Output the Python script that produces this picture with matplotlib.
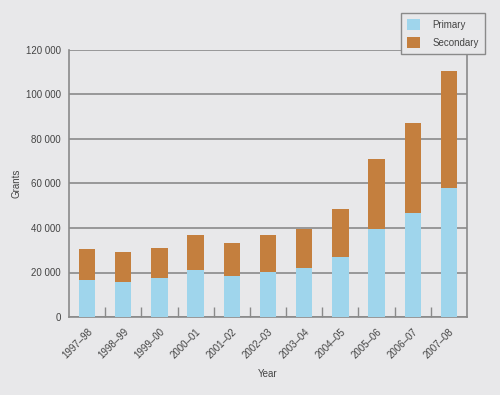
import matplotlib
matplotlib.use("Agg")
import matplotlib.pyplot as plt
import numpy as np

years = ["1997\u201398", "1998\u201399", "1999\u201300", "2000\u201301", "2001\u201302",
         "2002\u201303", "2003\u201304", "2004\u201305", "2005\u201306", "2006\u201307", "2007\u201308"]
primary = [16500, 15700, 17400, 21000, 18300, 20400, 22000, 27100, 39400, 46600, 57800]
totals = [30700, 29200, 30900, 36700, 33400, 36700, 39600, 48500, 71000, 87300, 110600]
secondary = [t - p for t, p in zip(totals, primary)]
yticks = [0, 20000, 40000, 60000, 80000, 100000, 120000]
ytick_labels = ["0", "20 000", "40 000", "60 000", "80 000", "100 000", "120 000"]

bg = "#e8e8ea"
c_prim = "#9fd5ec"
c_sec = "#c47f3e"
gridc = "#8a8a8a"
textc = "#444444"

plt.rcParams['font.family'] = ['Liberation Sans', 'DejaVu Sans']

fig = plt.figure(figsize=(5.0, 3.95), dpi=100, facecolor=bg)
ax = fig.add_axes([69/500, 1 - 317/395, (467-69)/500, (317-50)/395])
ax.set_facecolor(bg)

x = np.arange(len(years))
ax.bar(x, primary, width=0.45, color=c_prim, label="Primary", zorder=3)
ax.bar(x, secondary, width=0.45, bottom=primary, color=c_sec, label="Secondary", zorder=3)

ax.set_xlim(-0.5, len(years) - 0.5)
ax.set_ylim(0, 120000)
ax.set_yticks(yticks)
ax.set_yticklabels(ytick_labels, fontsize=7, color=textc)
ax.set_xticks(x)
ax.set_xticklabels(years, rotation=45, ha="right", rotation_mode="anchor", fontsize=7, color=textc)
ax.set_xticks(np.arange(0.5, len(years) - 1, 1.0), minor=True)
ax.tick_params(axis="x", which="major", length=0, pad=7)
ax.tick_params(axis="x", which="minor", direction="in", length=7, width=1, color=gridc)
ax.tick_params(axis="y", length=0, pad=6)

ax.yaxis.grid(True, color=gridc, linewidth=1.2, zorder=0)
ax.set_axisbelow(True)
for s in ["left", "bottom", "right"]:
    ax.spines[s].set_color(gridc)
    ax.spines[s].set_linewidth(1.2)
ax.spines["top"].set_visible(False)

ax.set_ylabel("Grants", fontsize=7, color=textc, labelpad=3)
ax.set_xlabel("Year", fontsize=7, color=textc, labelpad=6)

leg = fig.legend(loc="upper left", bbox_to_anchor=(401/500, 1 - 13/395), fontsize=7,
                 frameon=True, fancybox=False, handlelength=1.35, handleheight=1.35,
                 borderpad=0.65, labelspacing=0.7, handletextpad=1.2, borderaxespad=0)
leg.get_frame().set_facecolor(bg)
leg.get_frame().set_edgecolor(gridc)
leg.get_frame().set_linewidth(1.0)
leg.get_frame().set_alpha(1.0)
for t in leg.get_texts():
    t.set_color(textc)

fig.savefig("out.png", dpi=100, facecolor=bg)
